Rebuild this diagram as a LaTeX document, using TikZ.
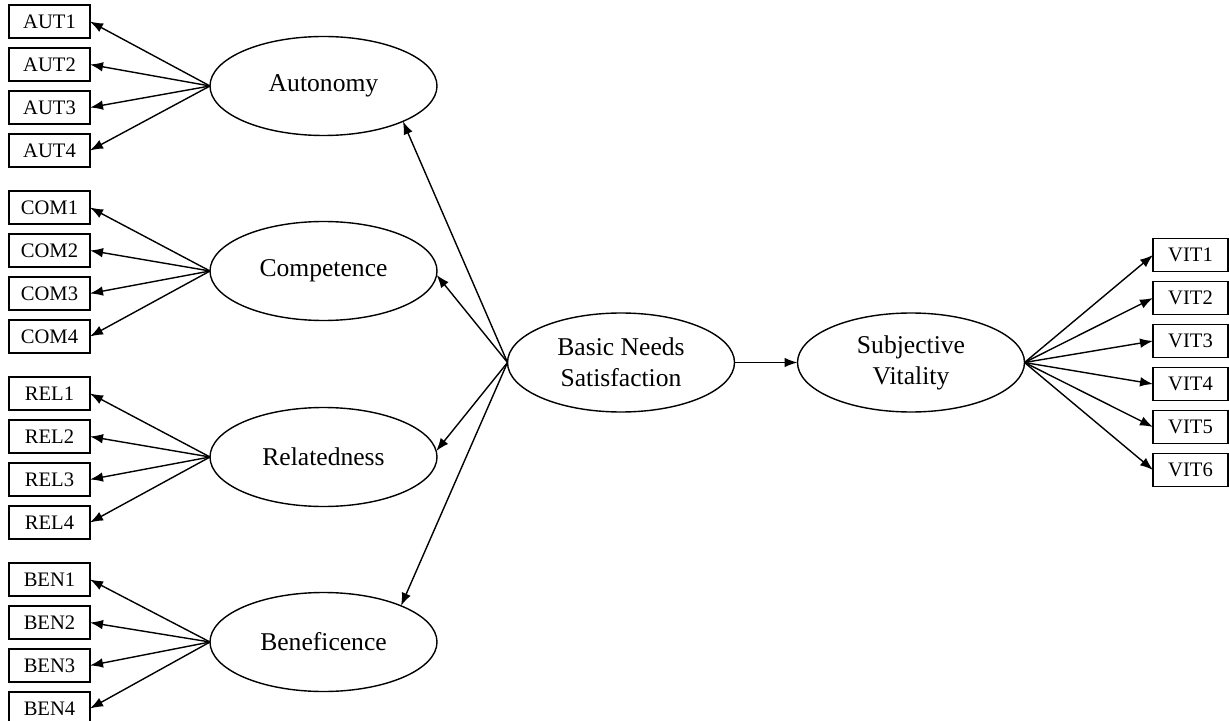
\documentclass[tikz,border=0pt]{standalone}
\usepackage{fontspec}
\setmainfont{Liberation Serif}
\usetikzlibrary{arrows.meta,shapes.geometric,positioning}
\tikzset{
    indicador/.style={rectangle,draw,minimum width=40.5pt,minimum height=16.5pt,inner sep=0pt,outer sep=0pt,node font=\fontsize{10.3}{12}\selectfont},
    indicadorv/.style={indicador,minimum width=37.5pt},
    factor/.style={ellipse,draw,minimum width=113.5pt,minimum height=49.5pt,inner sep=0pt,outer sep=0pt,align=center,node font=\fontsize{12.8}{15.5}\selectfont},
    flecha/.style={draw,->,>={Latex[length=6.5pt,width=4.8pt]}},
}

\begin{document}
\begin{tikzpicture}[
    x=0.5pt,y=-0.5pt,
    line width=0.7pt,
]
    \useasboundingbox (0,0) rectangle (1229,721);

    \node [factor] (bns) at (621,362.5) {Basic Needs\\Satisfaction};
    \node [factor,right=31.5pt of bns] (sv) {Subjective\\Vitality};
    \path [flecha] (bns) -- (sv);

    \node [factor] (aut) at (323.5,86)  {Autonomy};
    \node [factor] (com) at (323.5,271) {Competence};
    \node [factor] (rel) at (323.5,457) {Relatedness};
    \node [factor] (ben) at (323.5,642) {Beneficence};
    \path [flecha] (bns.west) -- (aut.-24);
    \path [flecha] (bns.west) -- (com.-2);
    \path [flecha] (bns.west) -- (rel.3);
    \path [flecha] (bns.west) -- (ben.25);

    % autonomy
    \node [indicador] (aut1) at (49.5,21.5) {AUT1};
    \path [flecha] (aut.west) -- (aut1.east);
    \node [indicador,below=5pt of aut1] (aut2) {AUT2};
    \path [flecha] (aut.west) -- (aut2.east);
    \node [indicador,below=5pt of aut2] (aut3) {AUT3};
    \path [flecha] (aut.west) -- (aut3.east);
    \node [indicador,below=5pt of aut3] (aut4) {AUT4};
    \path [flecha] (aut.west) -- (aut4.east);

    % competence
    \node [indicador,below=12pt of aut4] (com1) {COM1};
    \path [flecha] (com.west) -- (com1.east);
    \node [indicador,below=5pt of com1] (com2) {COM2};
    \path [flecha] (com.west) -- (com2.east);
    \node [indicador,below=5pt of com2] (com3) {COM3};
    \path [flecha] (com.west) -- (com3.east);
    \node [indicador,below=5pt of com3] (com4) {COM4};
    \path [flecha] (com.west) -- (com4.east);

    % relatedness
    \node [indicador,below=12pt of com4] (rel1) {REL1};
    \path [flecha] (rel.west) -- (rel1.east);
    \node [indicador,below=5pt of rel1] (rel2) {REL2};
    \path [flecha] (rel.west) -- (rel2.east);
    \node [indicador,below=5pt of rel2] (rel3) {REL3};
    \path [flecha] (rel.west) -- (rel3.east);
    \node [indicador,below=5pt of rel3] (rel4) {REL4};
    \path [flecha] (rel.west) -- (rel4.east);

    % beneficence
    \node [indicador,below=12pt of rel4] (ben1) {BEN1};
    \path [flecha] (ben.west) -- (ben1.east);
    \node [indicador,below=5pt of ben1] (ben2) {BEN2};
    \path [flecha] (ben.west) -- (ben2.east);
    \node [indicador,below=5pt of ben2] (ben3) {BEN3};
    \path [flecha] (ben.west) -- (ben3.east);
    \node [indicador,below=5pt of ben3] (ben4) {BEN4};
    \path [flecha] (ben.west) -- (ben4.east);

    % vitality
    \node [indicadorv] (vit1) at (1190.5,255) {VIT1};
    \path [flecha] (sv.east) -- (vit1.west);
    \node [indicadorv,below=5pt of vit1] (vit2) {VIT2};
    \path [flecha] (sv.east) -- (vit2.west);
    \node [indicadorv,below=5pt of vit2] (vit3) {VIT3};
    \path [flecha] (sv.east) -- (vit3.west);
    \node [indicadorv,below=5pt of vit3] (vit4) {VIT4};
    \path [flecha] (sv.east) -- (vit4.west);
    \node [indicadorv,below=5pt of vit4] (vit5) {VIT5};
    \path [flecha] (sv.east) -- (vit5.west);
    \node [indicadorv,below=5pt of vit5] (vit6) {VIT6};
    \path [flecha] (sv.east) -- (vit6.west);
\end{tikzpicture}
\end{document}
